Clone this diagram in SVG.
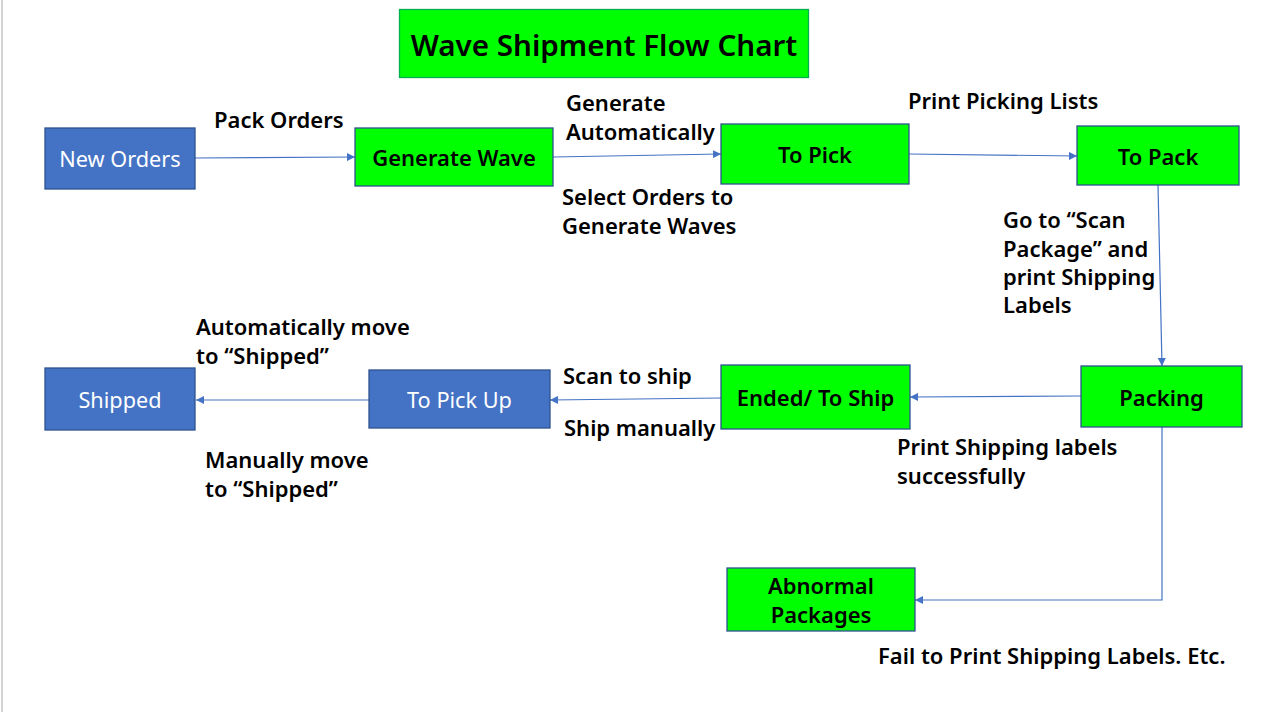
<svg xmlns="http://www.w3.org/2000/svg" width="1264" height="712" viewBox="0 0 1264 712">
<style>
.g{fill:#00FF00;stroke:#2F528F;stroke-width:1.3}
.b{fill:#4472C4;stroke:#2F528F;stroke-width:1.3}
.nt{font-family:"Noto Sans","Liberation Sans",sans-serif;font-size:22px;font-weight:600;fill:#000;text-anchor:middle;dominant-baseline:central}
.wt{font-family:"Noto Sans","Liberation Sans",sans-serif;font-size:21.7px;font-weight:400;fill:#fff;text-anchor:middle;dominant-baseline:central}
.lb{font-family:"Noto Sans","Liberation Sans",sans-serif;font-size:22px;font-weight:600;fill:#000}
.c{fill:none;stroke:#4472C4;stroke-width:1.2}
</style>
<defs>
<marker id="ah" viewBox="0 0 10 10" refX="10" refY="5" markerWidth="8" markerHeight="8" markerUnits="userSpaceOnUse" orient="auto">
<path d="M0,0 L10,5 L0,10 z" fill="#4472C4"/>
</marker>
</defs>
<rect x="0" y="0" width="1264" height="712" fill="#fff"/>
<line x1="2" y1="0" x2="2" y2="712" stroke="#d4d4d4" stroke-width="2"/>

<g id="title">
<rect x="399.5" y="9.5" width="409" height="68" fill="#00FF00" stroke="#00B050" stroke-width="1.3"/>
<text x="604" y="44" class="nt" style="font-size:29.6px">Wave Shipment Flow Chart</text>
</g>

<g id="connectors">
<line class="c" x1="195" y1="158" x2="355" y2="157" marker-end="url(#ah)"/>
<line class="c" x1="553" y1="157" x2="721" y2="154" marker-end="url(#ah)"/>
<line class="c" x1="909" y1="154" x2="1077" y2="156" marker-end="url(#ah)"/>
<line class="c" x1="1158" y1="185" x2="1162" y2="366" marker-end="url(#ah)"/>
<line class="c" x1="1081" y1="396" x2="910" y2="397" marker-end="url(#ah)"/>
<line class="c" x1="721" y1="398" x2="550" y2="400" marker-end="url(#ah)"/>
<line class="c" x1="369" y1="400" x2="196" y2="400" marker-end="url(#ah)"/>
<polyline class="c" points="1162,427 1162,600 915,600" marker-end="url(#ah)"/>
</g>

<g id="new-orders">
<rect class="b" x="45" y="128" width="150" height="61"/>
<text class="wt" x="120" y="158.5">New Orders</text>
</g>
<g id="generate-wave">
<rect class="g" x="355" y="128" width="198" height="58"/>
<text class="nt" x="454" y="157">Generate Wave</text>
</g>
<g id="to-pick">
<rect class="g" x="721" y="124" width="188" height="60"/>
<text class="nt" x="815" y="154">To Pick</text>
</g>
<g id="to-pack">
<rect class="g" x="1077" y="126" width="162" height="59"/>
<text class="nt" x="1158" y="155.5">To Pack</text>
</g>
<g id="packing">
<rect class="g" x="1081" y="366" width="161" height="61"/>
<text class="nt" x="1161.5" y="396.5">Packing</text>
</g>
<g id="ended-to-ship">
<rect class="g" x="721" y="365" width="189" height="64"/>
<text class="nt" x="815.5" y="397">Ended/ To Ship</text>
</g>
<g id="to-pick-up">
<rect class="b" x="369" y="370" width="181" height="58"/>
<text class="wt" x="459.5" y="399">To Pick Up</text>
</g>
<g id="shipped">
<rect class="b" x="45" y="368" width="150" height="62"/>
<text class="wt" x="120" y="399">Shipped</text>
</g>
<g id="abnormal-packages">
<rect class="g" x="727" y="568" width="188" height="63"/>
<text class="nt" x="821" y="585">Abnormal</text>
<text class="nt" x="821" y="614">Packages</text>
</g>

<g id="labels">
<text class="lb" x="214" y="128">Pack Orders</text>
<text class="lb" x="566" y="111">Generate</text>
<text class="lb" x="566" y="140">Automatically</text>
<text class="lb" x="562" y="205">Select Orders to</text>
<text class="lb" x="562" y="234">Generate Waves</text>
<text class="lb" x="908" y="109">Print Picking Lists</text>
<text class="lb" x="1003" y="228">Go to “Scan</text>
<text class="lb" x="1003" y="257">Package” and</text>
<text class="lb" x="1003" y="285">print Shipping</text>
<text class="lb" x="1003" y="313">Labels</text>
<text class="lb" x="196" y="335">Automatically move</text>
<text class="lb" x="196" y="364">to “Shipped”</text>
<text class="lb" x="563" y="384">Scan to ship</text>
<text class="lb" x="564" y="436">Ship manually</text>
<text class="lb" x="897" y="455">Print Shipping labels</text>
<text class="lb" x="897" y="484">successfully</text>
<text class="lb" x="205" y="468">Manually move</text>
<text class="lb" x="205" y="497">to “Shipped”</text>
<text class="lb" x="878" y="664">Fail to Print Shipping Labels. Etc.</text>
</g>
</svg>
